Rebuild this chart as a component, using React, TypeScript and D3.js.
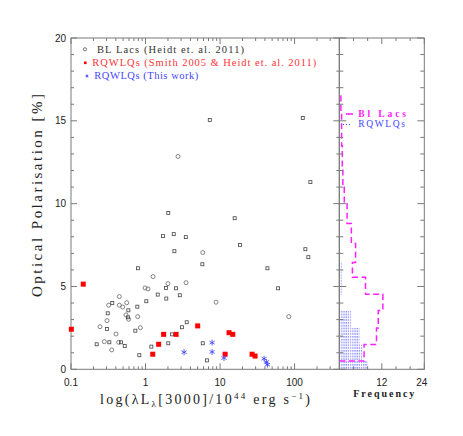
import React from "react";
import * as d3 from "d3";

// BL Lacs (Heidt et al. 2011): luminosity, polarisation, marker shape
const blLacL = [0.245,0.221,0.28,0.327,0.352,0.304,0.304,0.311,0.321,0.358,0.402,0.436,0.469,0.445,0.445,0.494,0.526,0.56,0.547,0.588,0.594,0.582,0.73,0.776,0.785,0.792,0.826,0.852,1.025,0.985,1.08,1.197,1.262,1.458,1.72,1.884,1.9,2.0,2.02,2.27,2.39,2.44,2.57,2.88,3.09,3.47,3.5,3.57,5.86,5.79,18.5,8.83,43.2,60.1,83.6,139.6,153,5.86,6.7,2.73,7.28,2.02,15.7,128.8,163];
const blLacP = [2.57,1.51,1.67,1.63,1.17,2.43,2.94,3.38,3.87,4.0,2.13,1.63,1.63,4.39,3.87,3.76,1.41,4.02,3.28,3.56,3.02,3.14,2.33,3.78,3.18,6.1,0.85,2.51,4.11,4.91,4.85,1.37,5.6,4.51,8.04,4.91,4.27,5.17,1.57,2.11,8.16,7.13,4.89,4.47,2.54,7.98,5.23,2.84,7.05,6.34,7.51,4.05,6.1,4.89,3.18,7.25,6.77,1.57,0.54,12.85,15.05,9.43,9.12,15.17,11.3];
const blLacShape = ["c","s","c","s","c","s","c","s","c","s","c","c","s","c","c","c","s","c","c","s","c","s","s","s","c","s","s","c","s","c","c","s","c","s","s","s","s","c","s","s","s","s","s","s","s","s","c","s","c","s","s","c","s","s","c","s","s","s","s","c","s","s","s","s","s"];

// RQWLQs (Smith 2005 & Heidt et al. 2011)
const smithL = [0.101,0.146,1.25,1.5,1.75,2.57,5.01,13.2,14.8,11.7,26.9,29.5];
const smithP = [2.42,5.14,0.91,1.51,2.11,2.11,2.62,2.21,2.11,0.91,0.91,0.8];

// RQWLQs (This work)
const thisL = [3.29,7.82,7.82,11.3,39.0,41.9,43.2];
const thisP = [1.03,1.61,1.05,0.68,0.64,0.44,0.28];

// Histograms (polarisation bin edges, frequency)
const blHistEdges = [0.5,1.5,2.5,3.55,4.53,5.55,6.45,7.6,8.8,10.0,11.0,12.2,13.5,15.5,16.5];
const blHistCounts = [7.0,10.5,11.0,12.3,7.4,3.7,4.6,3.4,2.2,1.4,1.0,0.85,0.65,0.45];
const rqHistLo = [0,0.5,1.5,2.5,4.5];
const rqHistHi = [0.5,1.5,2.5,3.55,6.5];
const rqHistCounts = [8.0,6.5,5.7,3.3,0.7];

const xMajor = [0.1,1,10,100];
const xTickLabels = ["0.1","1","10","100"];
const yMajor = [0,5,10,15,20];
const fMajor = [12,24];
const fTickLabels = ["12","24"];

const L = 71, R = 339.3, T = 38, B = 369.3, HR = 424.3;

export default function App() {
  const x = d3.scaleLog().domain([0.1, Math.pow(10, 2.6)]).range([L, R]);
  const y = d3.scaleLinear().domain([0, 20]).range([B, T]);
  const f = d3.scaleLinear().domain([0, 24]).range([R, HR]);

  const xMinor: number[] = [];
  [0.1, 1, 10, 100].forEach((d) => {
    for (let k = 2; k <= 9; k++) {
      const v = d * k;
      if (v <= Math.pow(10, 2.6)) xMinor.push(v);
    }
  });
  const yMinor = d3.range(0, 21, 1).filter((v) => v % 5 !== 0);
  const fMinor = [4, 8, 16, 20];

  const axisColor = "#7a7a7a";
  const serif = "'Liberation Serif', 'DejaVu Serif', serif";
  const sans = "'Liberation Sans', Arial, sans-serif";

  const pts: [number, number][] = [];
  pts.push([0, blHistEdges[0]]);
  blHistCounts.forEach((c, i) => {
    pts.push([c, blHistEdges[i]]);
    pts.push([c, blHistEdges[i + 1]]);
  });
  pts.push([0, blHistEdges[blHistEdges.length - 1]]);
  const stepLine = d3.line<[number, number]>().x((d) => f(d[0])).y((d) => y(d[1]));

  const star = (cx: number, cy: number, r: number) => {
    const a = Math.PI / 6;
    return `M${cx},${cy - r}L${cx},${cy + r}M${cx - r * Math.cos(a)},${cy - r * Math.sin(a)}L${cx + r * Math.cos(a)},${cy + r * Math.sin(a)}M${cx - r * Math.cos(a)},${cy + r * Math.sin(a)}L${cx + r * Math.cos(a)},${cy - r * Math.sin(a)}`;
  };

  return (
    <svg width={463} height={436} style={{ position: "absolute", left: 0, top: 0, background: "#fff" }}>
      <defs>
        <pattern id="dots" width="2.2" height="2.8" patternUnits="userSpaceOnUse">
          <rect x="0.3" y="0.3" width="1" height="1.1" fill="#3030ff" />
        </pattern>
      </defs>

      {rqHistCounts.map((c, i) => (
        <rect key={"rh" + i} x={f(0)} y={y(rqHistHi[i])} width={f(c) - f(0)} height={y(rqHistLo[i]) - y(rqHistHi[i])} fill="url(#dots)" />
      ))}

      <path d={stepLine(pts) || ""} fill="none" stroke="#ff22ff" strokeWidth={1.5} strokeDasharray="6,3.5" />

      <rect x={L} y={T} width={R - L} height={B - T} fill="none" stroke={axisColor} strokeWidth={1} />
      <rect x={R} y={T} width={HR - R} height={B - T} fill="none" stroke={axisColor} strokeWidth={1} />

      {xMajor.map((v) => (
        <g key={"xm" + v}>
          <line x1={x(v)} x2={x(v)} y1={B} y2={B - 6} stroke={axisColor} />
          <line x1={x(v)} x2={x(v)} y1={T} y2={T + 6} stroke={axisColor} />
        </g>
      ))}
      {xMinor.map((v) => (
        <g key={"xn" + v}>
          <line x1={x(v)} x2={x(v)} y1={B} y2={B - 3} stroke={axisColor} />
          <line x1={x(v)} x2={x(v)} y1={T} y2={T + 3} stroke={axisColor} />
        </g>
      ))}
      {xMajor.map((v, i) => (
        <text key={"xl" + v} x={x(v)} y={385.7} textAnchor="middle" fontFamily={sans} fontSize={10} fill="#222">{xTickLabels[i]}</text>
      ))}

      {yMajor.map((v) => (
        <g key={"ym" + v}>
          <line x1={L} x2={L + 6} y1={y(v)} y2={y(v)} stroke={axisColor} />
          <line x1={R - 6} x2={R + 7} y1={y(v)} y2={y(v)} stroke={axisColor} />
          <line x1={HR - 7} x2={HR} y1={y(v)} y2={y(v)} stroke={axisColor} />
          <text x={66} y={y(v) + 3.6} textAnchor="end" fontFamily={sans} fontSize={10} fill="#222">{v}</text>
        </g>
      ))}
      {yMinor.map((v) => (
        <g key={"yn" + v}>
          <line x1={L} x2={L + 3} y1={y(v)} y2={y(v)} stroke={axisColor} />
          <line x1={R - 3} x2={R + 4} y1={y(v)} y2={y(v)} stroke={axisColor} />
          <line x1={HR - 4} x2={HR} y1={y(v)} y2={y(v)} stroke={axisColor} />
        </g>
      ))}

      {fMajor.map((v, i) => (
        <g key={"fm" + v}>
          <line x1={f(v)} x2={f(v)} y1={B} y2={B - 6} stroke={axisColor} />
          <line x1={f(v)} x2={f(v)} y1={T} y2={T + 6} stroke={axisColor} />
          <text x={f(v) - (v === 24 ? 2.5 : 0)} y={385.7} textAnchor="middle" fontFamily={sans} fontSize={10} fill="#222">{fTickLabels[i]}</text>
        </g>
      ))}
      {fMinor.map((v) => (
        <g key={"fn" + v}>
          <line x1={f(v)} x2={f(v)} y1={B} y2={B - 3} stroke={axisColor} />
          <line x1={f(v)} x2={f(v)} y1={T} y2={T + 3} stroke={axisColor} />
        </g>
      ))}

      {blLacL.map((v, i) =>
        blLacShape[i] === "c" ? (
          <circle key={"bl" + i} cx={x(v)} cy={y(blLacP[i])} r={2} fill="none" stroke="#666" strokeWidth={0.8} />
        ) : (
          <rect key={"bl" + i} x={x(v) - 1.5} y={y(blLacP[i]) - 1.5} width={3} height={3} fill="none" stroke="#444" strokeWidth={0.8} />
        )
      )}

      {smithL.map((v, i) => (
        <rect key={"sm" + i} x={x(v) - 2.5} y={y(smithP[i]) - 2.5} width={5} height={5} fill="#ff0000" />
      ))}

      {thisL.map((v, i) => (
        <path key={"tw" + i} d={star(x(v), y(thisP[i]), 3)} stroke="#3a3aff" strokeWidth={0.8} fill="none" />
      ))}

      <circle cx={85} cy={49.3} r={1.6} fill="none" stroke="#555" strokeWidth={0.8} />
      <text x={97} y={52.7} fontFamily={serif} fontSize={10.5} fill="#333" textLength={147} lengthAdjust="spacing">BL Lacs (Heidt et. al. 2011)</text>
      <rect x={84} y={61.5} width={2.6} height={2.6} fill="#ff0000" />
      <text x={92.3} y={66} fontFamily={serif} fontSize={10.5} fill="#ff3535" textLength={224} lengthAdjust="spacing">RQWLQs (Smith 2005 &amp; Heidt et. al. 2011)</text>
      <path d={star(87, 76, 1.6)} stroke="#3a3aff" strokeWidth={0.8} fill="none" />
      <text x={94.3} y={79.3} fontFamily={serif} fontSize={10.5} fill="#4545ff" textLength={104} lengthAdjust="spacing">RQWLQs (This work)</text>

      <line x1={346} x2={353} y1={114} y2={114} stroke="#ff22ff" strokeWidth={1.6} />
      <text x={358.3} y={116.7} fontFamily={serif} fontSize={9.5} fontWeight="bold" fill="#ff22ff" textLength={47.7} lengthAdjust="spacing">Bl Lacs</text>
      <line x1={343} x2={351} y1={124.5} y2={124.5} stroke="#4040ff" strokeWidth={1} strokeDasharray="1,2" />
      <text x={358.3} y={126.8} fontFamily={serif} fontSize={9.5} fill="#4545ff" textLength={46.7} lengthAdjust="spacing">RQWLQs</text>

      <text transform="translate(41.5,195.5) rotate(-90)" textAnchor="middle" fontFamily={serif} fontSize={15} fill="#222" textLength={203} lengthAdjust="spacing">Optical Polarisation [%]</text>
      <text x={100} y={404} fontFamily={serif} fontSize={14} fill="#222" textLength={210} lengthAdjust="spacing">
        log(λL<tspan fontSize={9} dy={3}>λ</tspan><tspan dy={-3}>[3000]/10</tspan><tspan fontSize={9} dy={-5}>44</tspan><tspan dy={5}> erg s</tspan><tspan fontSize={9} dy={-5}>−1</tspan><tspan dy={5}>)</tspan>
      </text>
      <text x={383.8} y={396.5} textAnchor="middle" fontFamily={serif} fontSize={10} fontWeight="bold" fill="#222" textLength={61} lengthAdjust="spacing">Frequency</text>
    </svg>
  );
}
